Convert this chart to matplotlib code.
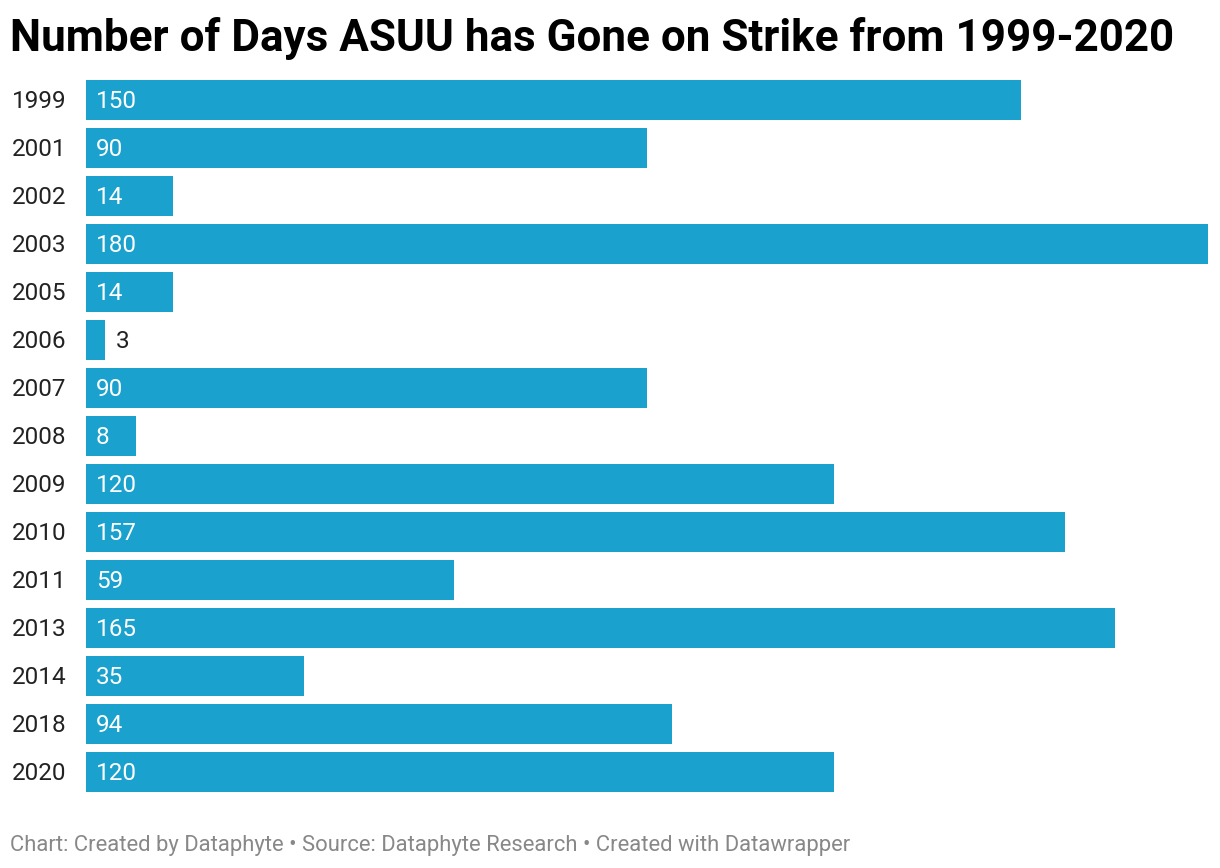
import matplotlib.pyplot as plt

years = ['1999', '2001', '2002', '2003', '2005', '2006', '2007', '2008',
         '2009', '2010', '2011', '2013', '2014', '2018', '2020']
days = [150, 90, 14, 180, 14, 3, 90, 8, 120, 157, 59, 165, 35, 94, 120]

plt.rcParams['font.family'] = ['Roboto', 'DejaVu Sans']

fig = plt.figure(figsize=(12.2, 8.68), dpi=100)
W, H = 1220, 868

# axes: bars from x=86 to 1208 (180), first bar top 80, last bar bottom 792
ax = fig.add_axes([86 / W, 1 - 792 / H, (1208 - 86) / W, (792 - 80) / H])
pos = list(range(len(years)))
ax.barh(pos, days, height=40 / 48, color='#1aa1cd')
ax.set_xlim(0, 180)
ax.set_ylim(len(years) - 1 + 20 / 48, -20 / 48)
ax.axis('off')

for i, (yr, d) in enumerate(zip(years, days)):
    # year labels sit left of the axes
    ax.annotate(yr, xy=(0, i), xycoords='data', xytext=(-74, -2), textcoords='offset pixels',
                ha='left', va='center', fontsize=17.5, color='#222222')
    if d >= 8:
        ax.annotate(str(d), xy=(0, i), xytext=(10, -2), textcoords='offset pixels',
                    ha='left', va='center', fontsize=17.5, color='white')
    else:
        ax.annotate(str(d), xy=(d, i), xytext=(11, -2), textcoords='offset pixels',
                    ha='left', va='center', fontsize=17.5, color='#222222')

fig.text(10 / W, 1 - 51 / H, 'Number of Days ASUU has Gone on Strike from 1999-2020',
         fontsize=31.7, fontweight='bold', color='black', ha='left', va='baseline')
fig.text(10 / W, 1 - 851 / H,
         'Chart: Created by Dataphyte \u2022 Source: Dataphyte Research \u2022 Created with Datawrapper',
         fontsize=15.8, color='#888888', ha='left', va='baseline')

fig.savefig('out.png', dpi=100, facecolor='white')
